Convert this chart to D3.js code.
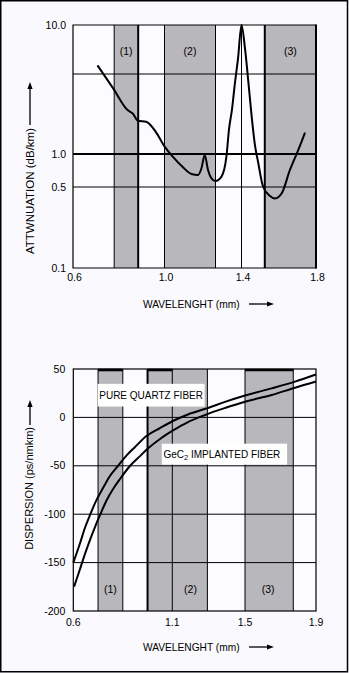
<!DOCTYPE html>
<html>
<head>
<meta charset="utf-8">
<script src="https://cdn.jsdelivr.net/npm/d3@7"></script>
<style>
  html, body { margin: 0; padding: 0; background: #fafafe; }
  svg { display: block; }
  text { font-family: "Liberation Sans", Arial, Helvetica, sans-serif; fill: #000; }
</style>
</head>
<body>
<svg id="chart" width="349" height="673"></svg>
<script>
// ---- Attenuation spectrum (upper panel) ----
const attWavelength = [0.707, 0.775, 0.840, 0.862, 0.884, 0.920, 0.964, 1.000, 1.043, 1.096,
                       1.140, 1.174, 1.192, 1.209, 1.226, 1.244, 1.265, 1.296, 1.322, 1.335,
                       1.351, 1.366, 1.382, 1.400, 1.419, 1.440, 1.456, 1.472, 1.489, 1.515,
                       1.553, 1.580, 1.616, 1.660, 1.705, 1.741];
const attValue = [4.70, 3.13, 2.13, 2.01, 1.78, 1.75, 1.45, 1.14, 0.945, 0.756,
                  0.657, 0.643, 0.741, 0.98, 0.715, 0.60, 0.567, 0.621, 0.96, 1.53,
                  2.19, 3.43, 5.35, 10.0, 6.40, 3.13, 1.83, 1.17, 0.845, 0.51,
                  0.418, 0.398, 0.441, 0.715, 1.074, 1.45];
const attWindows = [[0.78, 0.885], [1.0, 1.265], [1.525, 1.8]];
const attWindowLabels = ["(1)", "(2)", "(3)"];
const attGridX = [0.78, 0.885, 1.0, 1.265, 1.4, 1.525];
const attGridXBold = [0.885, 1.525];
const attGridY = [0.5, 1, 4];
const attGridYBold = [1];
const attTicksX = [0.6, 1.0, 1.4, 1.8];
const attTickLabelsX = ["0.6", "1.0", "1.4", "1.8"];
const attTicksY = [10, 1, 0.5, 0.1];
const attTickLabelsY = ["10.0", "1.0", "0.5", "0.1"];

// ---- Chromatic dispersion (lower panel) ----
const quartzWavelength = [0.600, 0.634, 0.659, 0.684, 0.718, 0.750, 0.785, 0.826, 0.866, 0.912,
                          0.971, 1.038, 1.115, 1.186, 1.296, 1.390, 1.500, 1.650, 1.782, 1.900];
const quartzDispersion = [-150, -130, -114, -101, -85, -73, -60.5, -50, -40, -30.5,
                          -19, -11, -2.7, 3, 9.7, 16, 22.6, 30, 37, 44.3];
const gecWavelength = [0.604, 0.634, 0.659, 0.684, 0.710, 0.735, 0.769, 0.801, 0.836, 0.886,
                       0.937, 0.971, 1.038, 1.104, 1.186, 1.280, 1.390, 1.500, 1.650, 1.782, 1.900];
const gecDispersion = [-175, -156.6, -141, -126.7, -113, -100.8, -85.3, -74, -63.6, -50.2,
                       -40, -33.2, -22.3, -13.5, -4.8, 2.5, 9.7, 16.2, 23.1, 30.7, 37];
const dispWindows = [[0.725, 0.85], [0.975, 1.293], [1.5, 1.772]];
const dispWindowCaps = [[0.725, 0.85], [0.975, 1.1], [1.5, 1.772]];
const dispWindowLabels = ["(1)", "(2)", "(3)"];
const dispWindowLabelX = [0.7875, 1.2, 1.63];
const dispGridX = [0.725, 0.85, 0.975, 1.1, 1.293, 1.5, 1.772];
const dispGridXBold = [0.975];
const dispGridY = [0, -50, -100, -150];
const dispTicksX = [0.6, 1.1, 1.5, 1.9];
const dispTickLabelsX = ["0.6", "1.1", "1.5", "1.9"];
const dispTicksY = [50, 0, -50, -100, -150, -200];
const dispTickLabelsY = ["50", "0", "-50", "-100", "-150", "-200"];

const BAND = "#b8b7bc";
const svg = d3.select("#chart");

// outer frame
svg.append("rect")
  .attr("x", 0.75).attr("y", 0.75).attr("width", 346.75).attr("height", 671)
  .attr("fill", "#fafafe").attr("stroke", "#000").attr("stroke-width", 1.5);

function arrowRight(g, x0, x1, y) {
  g.append("line").attr("x1", x0).attr("x2", x1 - 6).attr("y1", y).attr("y2", y)
    .attr("stroke", "#000").attr("stroke-width", 1.3);
  g.append("path").attr("d", `M${x1},${y} L${x1 - 7},${y - 2.6} L${x1 - 7},${y + 2.6} Z`).attr("fill", "#000");
}
function arrowUp(g, x, y0, y1) {
  g.append("line").attr("x1", x).attr("x2", x).attr("y1", y0).attr("y2", y1 + 6)
    .attr("stroke", "#000").attr("stroke-width", 1.3);
  g.append("path").attr("d", `M${x},${y1} L${x - 2.6},${y1 + 7} L${x + 2.6},${y1 + 7} Z`).attr("fill", "#000");
}

// ================= upper panel =================
{
  const x = d3.scaleLinear().domain([0.6, 1.0, 1.4, 1.8]).range([73, 164.5, 241.5, 316]);
  const y = d3.scaleLog().domain([0.1, 0.5, 1, 4, 10]).range([268, 187, 154, 74, 25]);
  const [x0, x1] = [x(0.6), x(1.8)];
  const [y0, y1] = [y(10), y(0.1)];
  const g = svg.append("g");

  g.append("rect").attr("x", x0).attr("y", y0).attr("width", x1 - x0).attr("height", y1 - y0).attr("fill", "#fcfcff");
  g.selectAll(".band").data(attWindows).join("rect")
    .attr("x", d => x(d[0])).attr("width", d => x(d[1]) - x(d[0]))
    .attr("y", y0).attr("height", y1 - y0).attr("fill", BAND);

  g.selectAll(".gx").data(attGridX).join("line")
    .attr("x1", d => x(d)).attr("x2", d => x(d)).attr("y1", y0).attr("y2", y1)
    .attr("stroke", "#000").attr("stroke-width", d => attGridXBold.includes(d) ? 2 : 1);
  g.selectAll(".gy").data(attGridY).join("line")
    .attr("x1", x0).attr("x2", x1).attr("y1", d => y(d)).attr("y2", d => y(d))
    .attr("stroke", "#000").attr("stroke-width", d => attGridYBold.includes(d) ? 2 : 1);

  // plot border (right edge drawn heavier)
  g.append("path").attr("d", `M${x1},${y0} H${x0} V${y1} H${x1}`)
    .attr("fill", "none").attr("stroke", "#000").attr("stroke-width", 1.2);
  g.append("line").attr("x1", x1).attr("x2", x1).attr("y1", y0 - 0.6).attr("y2", y1 + 0.6)
    .attr("stroke", "#000").attr("stroke-width", 2);

  const line = d3.line().x(d => x(d[0])).y(d => y(d[1])).curve(d3.curveMonotoneX);
  g.append("path").datum(d3.zip(attWavelength, attValue)).attr("d", line)
    .attr("fill", "none").attr("stroke", "#000").attr("stroke-width", 2).attr("stroke-linejoin", "round");

  g.selectAll(".wl").data(attWindows).join("text")
    .attr("x", d => x((d[0] + d[1]) / 2)).attr("y", y(6.1)).attr("dy", "0.35em")
    .attr("text-anchor", "middle").attr("font-size", 10.5)
    .text((d, i) => attWindowLabels[i]);

  g.selectAll(".tx").data(attTicksX).join("text")
    .attr("x", d => x(d) + 1.5).attr("y", y1 + 9.5).attr("dy", "0.35em")
    .attr("text-anchor", "middle").attr("font-size", 10.5)
    .text((d, i) => attTickLabelsX[i]);
  g.selectAll(".ty").data(attTicksY).join("text")
    .attr("x", x0 - 7).attr("y", d => y(d)).attr("dy", "0.35em")
    .attr("text-anchor", "end").attr("font-size", 10.5)
    .text((d, i) => attTickLabelsY[i]);

  g.append("text").attr("x", 143).attr("y", 304).attr("dy", "0.35em")
    .attr("font-size", 10.2).text("WAVELENGHT (mm)");
  arrowRight(g, 249, 274, 304);

  g.append("text").attr("transform", "translate(30,128) rotate(-90)").attr("dy", "0.35em")
    .attr("text-anchor", "end").attr("font-size", 11.5).text("ATTWNUATION (dB/km)");
  arrowUp(g, 30, 125, 82);
}

// ================= lower panel =================
{
  const x = d3.scaleLinear().domain([0.6, 1.1, 1.5, 1.9]).range([73.3, 172.3, 245, 316]);
  const y = d3.scaleLinear().domain([-200, 50]).range([611, 369]);
  const [x0, x1] = [x(0.6), x(1.9)];
  const [y0, y1] = [y(50), y(-200)];
  const g = svg.append("g");

  g.append("rect").attr("x", x0).attr("y", y0).attr("width", x1 - x0).attr("height", y1 - y0).attr("fill", "#fcfcff");
  g.selectAll(".band").data(dispWindows).join("rect")
    .attr("x", d => x(d[0])).attr("width", d => x(d[1]) - x(d[0]))
    .attr("y", y0).attr("height", y1 - y0).attr("fill", BAND);

  g.selectAll(".gx").data(dispGridX).join("line")
    .attr("x1", d => x(d)).attr("x2", d => x(d)).attr("y1", y0).attr("y2", y1)
    .attr("stroke", "#000").attr("stroke-width", d => dispGridXBold.includes(d) ? 2 : 1);
  g.selectAll(".gy").data(dispGridY).join("line")
    .attr("x1", x0).attr("x2", x1).attr("y1", d => y(d)).attr("y2", d => y(d))
    .attr("stroke", "#000").attr("stroke-width", 1);

  g.append("rect").attr("x", x0).attr("y", y0).attr("width", x1 - x0).attr("height", y1 - y0)
    .attr("fill", "none").attr("stroke", "#000").attr("stroke-width", 1.2);
  // heavy caps on top of the transmission windows
  g.selectAll(".cap").data(dispWindowCaps).join("line")
    .attr("x1", d => x(d[0])).attr("x2", d => x(d[1])).attr("y1", y0 + 1).attr("y2", y0 + 1)
    .attr("stroke", "#000").attr("stroke-width", 2.6);

  // fiber labels on white tags
  const tq = g.append("text").attr("x", x(0.731)).attr("y", y(23)).attr("dy", "0.35em")
    .attr("font-size", 10).text("PURE QUARTZ FIBER");
  const bq = tq.node().getBBox();
  g.insert("rect", () => tq.node()).attr("x", bq.x - 1.6).attr("width", bq.width + 3.2)
    .attr("y", y(23) - 11.3).attr("height", 22.7).attr("fill", "#fff");

  const tg = g.append("text").attr("x", x(1.055)).attr("y", y(-38)).attr("dy", "0.35em").attr("font-size", 10);
  tg.append("tspan").text("GeC");
  tg.append("tspan").attr("font-size", 7.5).attr("dy", 2.5).text("2");
  tg.append("tspan").attr("dy", -2.5).text(" IMPLANTED FIBER");
  const bg = tg.node().getBBox();
  g.insert("rect", () => tg.node()).attr("x", bg.x - 1.6).attr("width", bg.width + 8.3)
    .attr("y", y(-38) - 10.5).attr("height", 21).attr("fill", "#fff");

  const line = d3.line().x(d => x(d[0])).y(d => y(d[1])).curve(d3.curveMonotoneX);
  g.append("path").datum(d3.zip(quartzWavelength, quartzDispersion)).attr("d", line)
    .attr("fill", "none").attr("stroke", "#000").attr("stroke-width", 2);
  g.append("path").datum(d3.zip(gecWavelength, gecDispersion)).attr("d", line)
    .attr("fill", "none").attr("stroke", "#000").attr("stroke-width", 2);

  g.selectAll(".wl").data(dispWindowLabelX).join("text")
    .attr("x", d => x(d)).attr("y", y(-178)).attr("dy", "0.35em")
    .attr("text-anchor", "middle").attr("font-size", 10.5)
    .text((d, i) => dispWindowLabels[i]);

  g.selectAll(".tx").data(dispTicksX).join("text")
    .attr("x", d => x(d)).attr("y", y1 + 11.5).attr("dy", "0.35em")
    .attr("text-anchor", "middle").attr("font-size", 10.5)
    .text((d, i) => dispTickLabelsX[i]);
  g.selectAll(".ty").data(dispTicksY).join("text")
    .attr("x", x0 - 8).attr("y", d => y(d)).attr("dy", "0.35em")
    .attr("text-anchor", "end").attr("font-size", 10.5)
    .text((d, i) => dispTickLabelsY[i]);

  g.append("text").attr("x", 143).attr("y", 647).attr("dy", "0.35em")
    .attr("font-size", 10.2).text("WAVELENGHT (mm)");
  arrowRight(g, 249, 274, 647);

  g.append("text").attr("transform", "translate(29,427) rotate(-90)").attr("dy", "0.35em")
    .attr("text-anchor", "end").attr("font-size", 11).text("DISPERSION (ps/nmkm)");
  arrowUp(g, 30, 425, 400);
}
</script>
</body>
</html>
